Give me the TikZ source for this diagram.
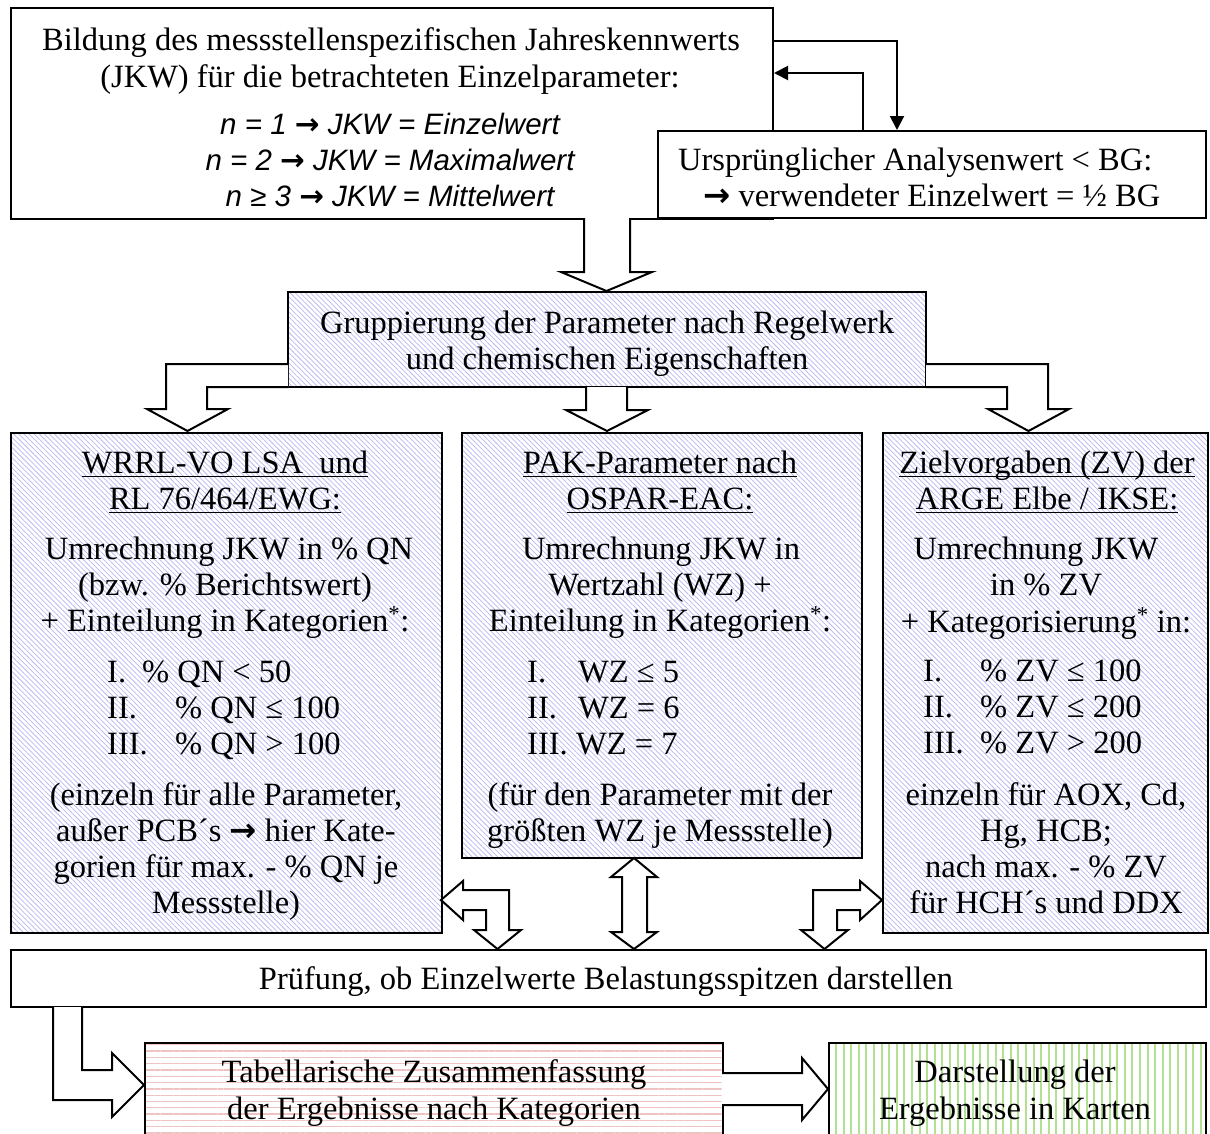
\documentclass[tikz,border=0pt]{standalone}
\usepackage{fontspec}
\setmainfont{Liberation Serif}
\newfontfamily\itsans{Liberation Sans}
\newfontfamily\arrfont{DejaVu Sans}
\newcommand\ar{{\arrfont\bfseries →}}
\usetikzlibrary{patterns.meta,arrows.meta}
\definecolor{hblue}{RGB}{185,185,242}
\definecolor{hpink}{RGB}{240,195,195}
\definecolor{hgreen}{RGB}{180,225,145}
\newcommand\myul[1]{\setbox0\hbox{#1}\rlap{\rule[-4pt]{\wd0}{1.4pt}}\box0}
\begin{document}
\begin{tikzpicture}[x=1pt,y=-1pt,
  box/.style={draw,line width=2pt,rectangle,inner sep=0pt,anchor=north west},
  hollow/.style={draw,line width=2pt,fill=white,line join=miter},
  conn/.style={draw,line width=2pt},
  txt/.style={inner sep=0pt,anchor=base,font=\fontsize{32.5}{36}\selectfont},
  ltxt/.style={txt,anchor=base west},
  itx/.style={inner sep=0pt,anchor=base,font=\itsans\itshape\fontsize{29.5}{34}\selectfont},
  blueh/.style={pattern={Lines[angle=-45,distance=3.6pt,line width=0.75pt]},pattern color=hblue},
  pinkh/.style={pattern={Lines[angle=0,distance=6.3pt,line width=1.3pt]},pattern color=hpink},
  greenh/.style={pattern={Lines[angle=90,distance=7.6pt,line width=2pt]},pattern color=hgreen}]
\useasboundingbox (0,0) rectangle (1210,1133);
\fill[white] (0,0) rectangle (1210,1133);
\clip (0,0) rectangle (1210,1133);
% boxes
\node[box,minimum width=762pt,minimum height=211pt] (top) at (10,7) {};
\node[box,fill=white,minimum width=548pt,minimum height=87pt] (rb) at (657,130) {};
\node[box,blueh,minimum width=638pt,minimum height=95pt] (grp) at (288,292) {};
\node[box,blueh,minimum width=431pt,minimum height=500pt] (lb) at (10,432) {};
\node[box,blueh,minimum width=400pt,minimum height=425pt] (mb) at (461,432) {};
\node[box,blueh,minimum width=325pt,minimum height=500pt] (rbx) at (882,432) {};
\node[box,minimum width=1195pt,minimum height=57pt] (pr) at (10,949) {};
\node[box,pinkh,minimum width=578pt,minimum height=120pt] (tab) at (144,1042) {};
\node[box,greenh,minimum width=377pt,minimum height=120pt] (kar) at (828,1042) {};
% feedback connectors
\coordinate (k1) at (897,41);
\coordinate (k2) at (863,73);
\draw[conn,-{Triangle[length=14pt,width=14pt]}] (top.east |- k1) -| (k1 |- rb.north);
\draw[conn,-{Triangle[length=14pt,width=14pt]}] (k2 |- rb.north) |- (top.east |- k2);
% hollow arrows
\draw[hollow] (584,218) -- (584,272) -- (561,272) -- (606.5,291) -- (652,272) -- (630,272) -- (630,218);
\draw[hollow] (288,364) -- (166,364) -- (166,409) -- (147,409) -- (187.5,431) -- (228,409) -- (207,409) -- (207,387) -- (288,387);
\draw[hollow] (586,387) -- (586,410) -- (566,410) -- (607,431) -- (648,410) -- (627,410) -- (627,387);
\draw[hollow] (926,364) -- (1048,364) -- (1048,409) -- (1069,409) -- (1028.5,431) -- (988,409) -- (1007,409) -- (1007,387) -- (926,387);
\draw[hollow] (634,858) -- (657,877) -- (647,877) -- (647,932) -- (657,932) -- (634,949) -- (611,932) -- (622,932) -- (622,877) -- (611,877) -- cycle;
\draw[hollow] (441,900) -- (463,881) -- (463,890) -- (509,890) -- (509,930) -- (521,930) -- (497.5,949) -- (474,930) -- (486,930) -- (486,910) -- (463,910) -- (463,920) -- cycle;
\draw[hollow] (882,900) -- (860,881) -- (860,890) -- (813,890) -- (813,930) -- (801,930) -- (824.5,949) -- (848,930) -- (837,930) -- (837,910) -- (860,910) -- (860,920) -- cycle;
\draw[hollow] (53,1007) -- (53,1100) -- (112,1100) -- (112,1117) -- (144,1085) -- (112,1053) -- (112,1070) -- (82,1070) -- (82,1007);
\draw[hollow] (722,1073) -- (802,1073) -- (802,1058) -- (828,1089) -- (802,1120) -- (802,1105) -- (722,1105);
% top box text
\node[txt] (a1) at (391,50) {Bildung des messstellenspezifischen Jahreskennwerts};
\node[txt] (a2) at (390,87) {(JKW) für die betrachteten Einzelparameter:};
\node[itx] (a3) at (390,134.5) {n = 1 \ar\ JKW = Einzelwert};
\node[itx] (a4) at (390,170.5) {n = 2 \ar\ JKW = Maximalwert};
\node[itx] (a5) at (390,206.5) {n ≥ 3 \ar\ JKW = Mittelwert};
\node[ltxt] (b1) at (678,170) {Ursprünglicher Analysenwert < BG:};
\node[ltxt] (b2) at (703,206) {\ar\ verwendeter Einzelwert = ½ BG};
% grouping
\node[txt] (g1) at (607,333) {Gruppierung der Parameter nach Regelwerk};
\node[txt] (g2) at (607,369) {und chemischen Eigenschaften};
% left box
\node[txt] (l1) at (225,473) {\myul{WRRL-VO LSA\ \ und}};
\node[txt] (l2) at (225,509) {\myul{RL 76/464/EWG:}};
\node[txt] (l3) at (229,559) {Umrechnung JKW in \% QN};
\node[txt] (l4) at (225,595) {(bzw. \% Berichtswert)};
\node[txt] (l5) at (225,631) {+ Einteilung in Kategorien\textsuperscript{*}:};
\node[ltxt] (l6a) at (107,682) {I.};
\node[ltxt] (l6b) at (142,682) {\% QN < 50};
\node[ltxt] (l7a) at (107,718) {II.};
\node[ltxt] (l7b) at (175,718) {\% QN ≤ 100};
\node[ltxt] (l8a) at (107,754) {III.};
\node[ltxt] (l8b) at (175,754) {\% QN > 100};
\node[txt] (l9) at (226,805) {(einzeln für alle Parameter,};
\node[txt] (l10) at (226,841) {außer PCB´s \ar\ hier Kate-};
\node[txt] (l11) at (226,877) {gorien für max. - \% QN je};
\node[txt] (l12) at (226,913) {Messstelle)};
% middle box
\node[txt] (m1) at (660,473) {\myul{PAK-Parameter nach}};
\node[txt] (m2) at (660,509) {\myul{OSPAR-EAC:}};
\node[txt] (m3) at (661,559) {Umrechnung JKW in};
\node[txt] (m4) at (660,595) {Wertzahl (WZ) +};
\node[txt] (m5) at (660,631) {Einteilung in Kategorien\textsuperscript{*}:};
\node[ltxt] (m6a) at (527,682) {I.};
\node[ltxt] (m6b) at (578,682) {WZ ≤ 5};
\node[ltxt] (m7a) at (527,718) {II.};
\node[ltxt] (m7b) at (578,718) {WZ = 6};
\node[ltxt] (m8a) at (527,754) {III.};
\node[ltxt] (m8b) at (576,754) {WZ = 7};
\node[txt] (m9) at (660,805) {(für den Parameter mit der};
\node[txt] (m10) at (660,841) {größten WZ je Messstelle)};
% right box
\node[txt] (r1) at (1047,473) {\myul{Zielvorgaben (ZV) der}};
\node[txt] (r2) at (1047,509) {\myul{ARGE Elbe / IKSE:}};
\node[txt] (r3) at (1036,559) {Umrechnung JKW};
\node[txt] (r4) at (1046,595) {in \% ZV};
\node[txt] (r5) at (1046,632) {+ Kategorisierung\textsuperscript{*} in:};
\node[ltxt] (r6a) at (923,681) {I.};
\node[ltxt] (r6b) at (980,681) {\% ZV ≤ 100};
\node[ltxt] (r7a) at (923,717) {II.};
\node[ltxt] (r7b) at (980,717) {\% ZV ≤ 200};
\node[ltxt] (r8a) at (923,753) {III.};
\node[ltxt] (r8b) at (980,753) {\% ZV > 200};
\node[txt] (r9) at (1046,805) {einzeln für AOX, Cd,};
\node[txt] (r10) at (1046,841) {Hg, HCB;};
\node[txt] (r11) at (1046,877) {nach max. - \% ZV};
\node[txt] (r12) at (1046,913) {für HCH´s und DDX};
% bottom
\node[txt] (p1) at (606,989) {Prüfung, ob Einzelwerte Belastungsspitzen darstellen};
\node[txt] (t1) at (434,1082) {Tabellarische Zusammenfassung};
\node[txt] (t2) at (434,1119) {der Ergebnisse nach Kategorien};
\node[txt] (d1) at (1015,1082) {Darstellung der};
\node[txt] (d2) at (1015,1119) {Ergebnisse in Karten};
\end{tikzpicture}
\end{document}
